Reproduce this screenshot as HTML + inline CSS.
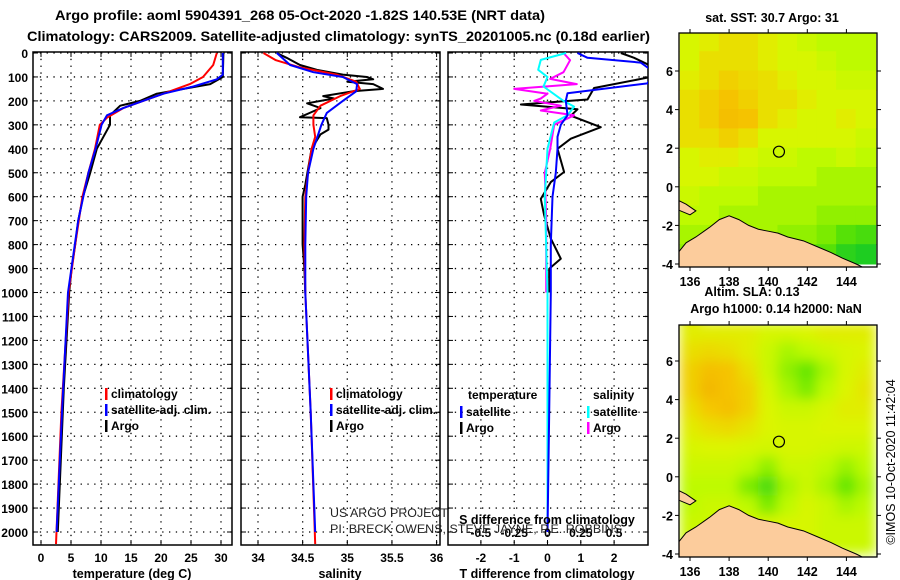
<!DOCTYPE html>
<html><head><meta charset="utf-8"><style>
html,body{margin:0;padding:0;background:#fff;}
svg{display:block;font-family:"Liberation Sans",sans-serif;}
</style></head><body>
<svg id="fig" width="900" height="580" viewBox="0 0 900 580" xmlns="http://www.w3.org/2000/svg">
<rect width="900" height="580" fill="#fff"/>
<text x="55" y="20" font-size="14" font-weight="bold" textLength="490" lengthAdjust="spacingAndGlyphs">Argo profile: aoml 5904391_268 05-Oct-2020 -1.82S 140.53E (NRT data)</text>
<text x="27" y="41" font-size="14" font-weight="bold" textLength="623" lengthAdjust="spacingAndGlyphs">Climatology: CARS2009. Satellite-adjusted climatology: synTS_20201005.nc (0.18d earlier)</text>
</svg>
<script>
// ---------- data ----------
const depthTicks=[0,100,200,300,400,500,600,700,800,900,1000,1100,1200,1300,1400,1500,1600,1700,1800,1900,2000];
const tTicks=[0,5,10,15,20,25,30];
const sTicks=[34,34.5,35,35.5,36];
const dtTicks=[-2,-1,0,1,2];
const dsTicks=[-0.5,-0.25,0,0.25,0.5];
const dsTickLabels=["-0.5","-0.25","0","0.25","0.5"];
// temperature profiles [depth, T]
const tempClimDepth=[0,50,100,130,170,200,230,270,300,400,500,600,800,1000,1500,2050];
const tempClimVal=[29.3,28.7,27,24.8,20.4,17,13.7,11,9.8,9,7.9,6.9,5.7,4.6,3.4,2.5];
const tempSatDepth=[0,90,110,140,170,200,230,260,300,400,500,700,1000,1500,2000];
const tempSatVal=[30.3,30.3,29.3,25.4,20.4,17,13.7,11,10.1,9.1,7.9,6.2,4.5,3.5,2.6];
const tempArgoDepth=[0,100,130,170,200,220,260,300,350,400,500,600,700,800,900,1000,1400,2000];
const tempArgoVal=[30.4,30.3,28.2,19.3,16.5,13.2,11.5,11.5,10.4,9.3,8.2,7,6.2,5.7,5.1,4.7,3.8,2.8];
// salinity profiles
const salClimDepth=[0,30,60,90,120,150,180,220,260,300,350,400,500,600,800,1000,1500,2050];
const salClimVal=[34.06,34.2,34.47,34.88,35.1,35.14,34.92,34.7,34.62,34.62,34.64,34.6,34.56,34.53,34.52,34.53,34.59,34.64];
const salSatDepth=[0,50,80,100,130,160,200,250,300,400,500,600,800,1000,1500,2000];
const salSatVal=[34.21,34.36,34.62,34.95,35.11,35.1,34.95,34.77,34.71,34.62,34.56,34.54,34.53,34.53,34.59,34.64];
const salArgoDepth=[0,20,50,70,90,100,110,120,130,150,160,180,190,210,230,250,268,272,300,320,340,400,550,600,800,900,1000];
const salArgoVal=[34.21,34.32,34.47,34.66,34.95,35.22,35.29,35.0,35.29,35.4,35.06,34.73,34.85,34.55,34.7,34.58,34.47,34.77,34.79,34.79,34.7,34.6,34.53,34.5,34.5,34.52,34.53];
// differences
const dtSatDepth=[0,20,40,80,127,168,200,260,300,350,400,500,600,800,1000,1500,2000];
const dtSatVal=[0.9,1.2,2.8,3.2,3.0,0.6,0.55,0.6,0.4,0.3,0.3,0.25,0.15,0.1,0.1,0.05,0.0];
const dtArgoDepth=[0,20,60,100,146,194,215,235,262,310,358,400,497,539,609,678,775,859,901,1000];
const dtArgoVal=[2.2,2.6,3.2,3.1,1.4,1.2,-0.8,0.9,0.7,1.6,0.7,0.3,0.5,0.1,-0.2,-0.1,0.1,0.4,0.05,0.05];
const dsSatDepth=[0,29,70,100,140,200,224,260,290,400,600,1000,2000];
const dsSatVal=[0.14,-0.05,-0.07,0,-0.03,0.12,0.2,0.15,0.05,0,-0.02,0,0];
const dsArgoDepth=[0,30,80,108,130,150,170,190,200,220,240,260,300,400,500,700,1000];
const dsArgoVal=[0.12,0.17,0.12,0.02,0.22,-0.25,0,-0.05,-0.1,0.1,-0.05,0.2,0.05,0.02,-0.02,-0.01,-0.01];
// map grids (0 = green, 1 = orange), rows lat 8..-4, cols lon 135.5..145.5
const sstGrid=[
[.6,.65,.7,.7,.65,.6,.55,.5,.5,.5],
[.6,.7,.7,.7,.65,.6,.6,.55,.5,.5],
[.65,.7,.75,.72,.7,.65,.6,.6,.55,.55],
[.7,.75,.8,.75,.7,.7,.65,.6,.6,.6],
[.7,.75,.82,.8,.7,.65,.6,.6,.65,.6],
[.7,.7,.75,.7,.6,.6,.6,.6,.6,.55],
[.6,.65,.65,.6,.55,.55,.5,.5,.55,.5],
[.6,.6,.55,.55,.5,.5,.5,.45,.45,.45],
[.55,.5,.5,.5,.45,.45,.45,.45,.45,.45],
[.5,.5,.45,.45,.45,.45,.45,.4,.4,.4],
[.45,.45,.45,.45,.45,.4,.4,.35,.25,.2],
[.4,.4,.4,.4,.4,.35,.3,.25,.1,.05]];
const slaGrid=[
[.65,.65,.65,.65,.6,.6,.62,.65,.65,.65],
[.7,.72,.7,.65,.55,.45,.5,.55,.6,.62],
[.75,.82,.8,.7,.55,.4,.3,.45,.6,.65],
[.75,.85,.8,.75,.6,.45,.35,.5,.62,.68],
[.7,.78,.82,.75,.62,.55,.55,.6,.65,.65],
[.65,.7,.72,.68,.62,.6,.6,.62,.62,.62],
[.6,.62,.62,.6,.58,.6,.6,.58,.56,.56],
[.55,.55,.55,.5,.4,.55,.55,.5,.42,.5],
[.5,.5,.5,.35,.2,.45,.55,.45,.3,.45],
[.5,.55,.55,.5,.35,.5,.6,.55,.45,.5],
[.55,.55,.6,.6,.6,.6,.6,.55,.55,.55],
[.55,.55,.6,.6,.6,.6,.6,.55,.55,.55]];
const coastLon=[135.4,135.8,136.3,137,137.5,138,138.5,139,139.5,140,140.5,141,141.8,142.5,143.2,143.8,144.5,144.9,144.9,135.4];
const coastLat=[-3.4,-2.9,-2.6,-2.1,-1.7,-1.5,-1.7,-2.0,-2.2,-2.3,-2.4,-2.6,-2.8,-3.1,-3.4,-3.7,-4.0,-4.2,-4.3,-4.3];
const islandLon=[135.4,135.8,136.3,136.0,135.4];
const islandLat=[-0.7,-0.9,-1.25,-1.45,-1.2];
const argoLon=140.55, argoLat=1.82;
const lonTicks=[136,138,140,142,144];
const latTicks=[-4,-2,0,2,4,6];

// ---------- helpers ----------
const NS="http://www.w3.org/2000/svg";
const svg=document.getElementById('fig');
function mk(tag,attrs,parent){const e=document.createElementNS(NS,tag);for(const k in attrs)e.setAttribute(k,attrs[k]);(parent||svg).appendChild(e);return e;}
const Y=d=>53+d*0.2395;
const TOP=52,BOT=545;
const panels=[
 {x0:33,x1:232,fx:v=>41+v*6,name:'temperature'},
 {x0:241,x1:440,fx:v=>258+(v-34)*89.3,name:'salinity'},
 {x0:448,x1:648,fx:v=>547.5+v*33.3,name:'difference'}];
const fxDs=v=>547.5+v*133.2;

// ---------- profile panels ----------
panels.forEach((p,i)=>{
  const g=mk('g',{});
  
  
  const cp=mk('clipPath',{id:'clip'+i},g);
  mk('rect',{x:p.x0,y:TOP,width:p.x1-p.x0,height:BOT-TOP},cp);
  // horizontal grid
  depthTicks.forEach(d=>{
    const l=mk('line',{x1:p.x0,x2:p.x1,y1:Y(d),y2:Y(d),stroke:'#000','stroke-width':1.3,'stroke-dasharray':'1.3 5.5'},g);
    
    
    mk('line',{x1:p.x0,x2:p.x0+5,y1:Y(d),y2:Y(d),stroke:'#000'},g);
    mk('line',{x1:p.x1-5,x2:p.x1,y1:Y(d),y2:Y(d),stroke:'#000'},g);
  });
  const ticks=i==0?tTicks:i==1?sTicks:dtTicks;
  ticks.forEach(t=>{
    const x=p.fx(t);
    const l=mk('line',{x1:x,x2:x,y1:TOP,y2:BOT,stroke:'#000','stroke-width':1.3,'stroke-dasharray':'1.3 5.5'},g);
    
    
    mk('line',{x1:x,x2:x,y1:BOT-5,y2:BOT,stroke:'#000'},g);
    mk('line',{x1:x,x2:x,y1:TOP,y2:TOP+5,stroke:'#000'},g);
    const tx=mk('text',{x:x,y:562,'font-size':12,'font-weight':'bold','text-anchor':'middle'},g);
    tx.textContent=String(t);
    
    
  });
  const b=mk('rect',{x:p.x0,y:TOP,width:p.x1-p.x0,height:BOT-TOP,fill:'none',stroke:'#000','stroke-width':1.5},g);
  
  
  p.g=g;
});
// depth labels
depthTicks.forEach(d=>{
  const t=mk('text',{x:28,y:Y(d)+5,'font-size':12,'font-weight':'bold','text-anchor':'end'});
  t.textContent=String(d);
  
  
});
function line(p,i,ds,vs,fx,col,name,w){
  const pts=ds.map((d,k)=>fx(vs[k]).toFixed(1)+','+Y(d).toFixed(1)).join(' ');
  const e=mk('polyline',{points:pts,fill:'none',stroke:col,'stroke-width':w||2,'stroke-linejoin':'round','clip-path':'url(#clip'+i+')'},p.g);
  
  
}
const P=panels;
line(P[0],0,tempArgoDepth,tempArgoVal,P[0].fx,'#000','temp-argo-line');
line(P[0],0,tempClimDepth,tempClimVal,P[0].fx,'#f00','temp-climatology-line');
line(P[0],0,tempSatDepth,tempSatVal,P[0].fx,'#00f','temp-satellite-line');
line(P[1],1,salArgoDepth,salArgoVal,P[1].fx,'#000','salinity-argo-line');
line(P[1],1,salClimDepth,salClimVal,P[1].fx,'#f00','salinity-climatology-line');
line(P[1],1,salSatDepth,salSatVal,P[1].fx,'#00f','salinity-satellite-line');
line(P[2],2,dtArgoDepth,dtArgoVal,P[2].fx,'#000','tdiff-argo-line');
line(P[2],2,dsArgoDepth,dsArgoVal,fxDs,'#f0f','sdiff-argo-line');
line(P[2],2,dsSatDepth,dsSatVal,fxDs,'#0ff','sdiff-satellite-line');
line(P[2],2,dtSatDepth,dtSatVal,P[2].fx,'#00f','tdiff-satellite-line');

// axis titles
[['temperature (deg C)',132,'x-axis-title-temperature'],['salinity',340,'x-axis-title-salinity'],['T difference from climatology',547,'x-axis-title-tdiff']].forEach(a=>{
  const t=mk('text',{x:a[1],y:578,'font-size':12.5,'font-weight':'bold','text-anchor':'middle'});
  t.textContent=a[0];
  
  
});
// legends
function legEntry(x,y,col,label,name){
  const g=mk('g',{});
  
  
  mk('rect',{x:x,y:y-9,width:2.5,height:12,fill:col},g);
  const t=mk('text',{x:x+6,y:y+1,'font-size':12,'font-weight':'bold'},g);
  t.textContent=label;
}
legEntry(105,397,'#f00','climatology','legend-entry-climatology');
legEntry(105,413,'#00f','satellite-adj. clim.','legend-entry-satellite-adj');
legEntry(105,429,'#000','Argo','legend-entry-argo');
legEntry(330,397,'#f00','climatology','legend-entry-sal-climatology');
legEntry(330,413,'#00f','satellite-adj. clim.','legend-entry-sal-satellite-adj');
legEntry(330,429,'#000','Argo','legend-entry-sal-argo');
{const t=mk('text',{x:468,y:399,'font-size':12,'font-weight':'bold'});t.textContent='temperature';


const s=mk('text',{x:593,y:399,'font-size':12,'font-weight':'bold'});s.textContent='salinity';

}
legEntry(460,415,'#00f','satellite','legend-entry-tdiff-satellite');
legEntry(460,431,'#000','Argo','legend-entry-tdiff-argo');
legEntry(587,415,'#0ff','satellite','legend-entry-sdiff-satellite');
legEntry(587,431,'#f0f','Argo','legend-entry-sdiff-argo');
// S difference axis
{const t=mk('text',{x:547,y:524,'font-size':12.5,'font-weight':'bold','text-anchor':'middle'});t.textContent='S difference from climatology';

}
dsTicks.forEach((v,k)=>{
  const t=mk('text',{x:fxDs(v),y:537,'font-size':12,'font-weight':'bold','text-anchor':'middle'});
  t.textContent=dsTickLabels[k];
  
  
});
{const a=mk('text',{x:330,y:517,'font-size':12,fill:'#222','textLength':118,'lengthAdjust':'spacingAndGlyphs'});a.textContent='US ARGO PROJECT';


const b=mk('text',{x:330,y:533,'font-size':12,fill:'#222','textLength':292,'lengthAdjust':'spacingAndGlyphs'});b.textContent='PI: BRECK OWENS, STEVE JAYNE, P.E. ROBBINS';

}

// ---------- maps ----------
function cmap(v){
  const st=[[0,[16,200,40]],[0.3,[100,230,0]],[0.5,[190,250,0]],[0.62,[220,245,0]],[0.78,[245,200,0]],[1,[240,150,0]]];
  for(let k=1;k<st.length;k++){if(v<=st[k][0]){const a=st[k-1],b=st[k],f=(v-a[0])/(b[0]-a[0]);
    return 'rgb('+a[1].map((c,j)=>Math.round(c+(b[1][j]-c)*f)).join(',')+')';}}
  return 'rgb(240,150,0)';
}
function drawMap(top,bot,lat6y,latm4y,grid,name,blur){
  const x0=679,x1=877;
  const fx=lon=>690+(lon-136)*19.55;
  const fy=lat=>lat6y+(6-lat)*(latm4y-lat6y)/10;
  const g=mk('g',{});
  
  
  const cid='mclip'+name;
  const cp=mk('clipPath',{id:cid},g);
  mk('rect',{x:x0,y:top,width:x1-x0,height:bot-top},cp);
  const hg=mk('g',{'clip-path':'url(#'+cid+')'},g);
  const inner=mk('g',blur?{filter:'url(#blur)'}:{},hg);
  grid.forEach((row,r)=>row.forEach((v,c)=>{
    const lon=135.5+c, lat=8-r;
    const e=mk('rect',{x:fx(lon)-0.5,y:fy(lat)-0.5,width:fx(lon+1)-fx(lon)+1,height:fy(lat-1)-fy(lat)+1,fill:cmap(v)},inner);
    if(r==0&&c==0){e.setAttribute('height',fy(lat-1)-top+20);e.setAttribute('y',top-20);}
    
    
  }));
  const land=mk('polygon',{points:coastLon.map((lo,k)=>fx(lo)+','+fy(coastLat[k])).join(' '),fill:'#fccc9c',stroke:'#000','stroke-width':1},hg);
  
  
  const isl=mk('polygon',{points:islandLon.map((lo,k)=>fx(lo)+','+fy(islandLat[k])).join(' '),fill:'#fccc9c',stroke:'#000','stroke-width':1},hg);
  
  
  const m=mk('circle',{cx:fx(argoLon),cy:fy(argoLat),r:5.5,fill:'none',stroke:'#000','stroke-width':1.2},g);
  
  
  const fr=mk('rect',{x:x0,y:top,width:x1-x0,height:bot-top,fill:'none',stroke:'#000','stroke-width':1.3},g);
  
  
  lonTicks.forEach(lo=>{
    mk('line',{x1:fx(lo),x2:fx(lo),y1:top-4,y2:top,stroke:'#000'},g);
    mk('line',{x1:fx(lo),x2:fx(lo),y1:bot,y2:bot+4,stroke:'#000'},g);
    const t=mk('text',{x:fx(lo),y:bot+19,'font-size':12.5,'font-weight':'bold','text-anchor':'middle'},g);
    t.textContent=String(lo);
    
    
  });
  latTicks.forEach(la=>{
    mk('line',{x1:x0-4,x2:x0,y1:fy(la),y2:fy(la),stroke:'#000'},g);
    mk('line',{x1:x1,x2:x1+4,y1:fy(la),y2:fy(la),stroke:'#000'},g);
    const t=mk('text',{x:673,y:fy(la)+5,'font-size':12.5,'font-weight':'bold','text-anchor':'end'},g);
    t.textContent=String(la);
    
    
  });
}
const defs=mk('defs',{});
const f=mk('filter',{id:'blur',x:'-10%',y:'-10%',width:'120%',height:'120%'},defs);
mk('feGaussianBlur',{stdDeviation:6,'edge-mode':'duplicate'},f);
drawMap(33,267,71,264,sstGrid,'sst-map',false);
drawMap(325,557,361,554,slaGrid,'sla-map',true);
[['sat. SST: 30.7 Argo: 31',772,22,'sst-map-title'],['Altim. SLA: 0.13',752,296,'sla-title-line-1'],['Argo h1000: 0.14 h2000: NaN',776,313,'sla-title-line-2']].forEach(a=>{
  const t=mk('text',{x:a[1],y:a[2],'font-size':12.5,'font-weight':'bold','text-anchor':'middle'});
  t.textContent=a[0];
  
  
});
{const t=mk('text',{x:0,y:0,'font-size':12.5,'text-anchor':'middle',transform:'translate(895,462) rotate(-90)'});
t.textContent='\u00A9IMOS 10-Oct-2020 11:42:04';

}
</script>
</body></html>
